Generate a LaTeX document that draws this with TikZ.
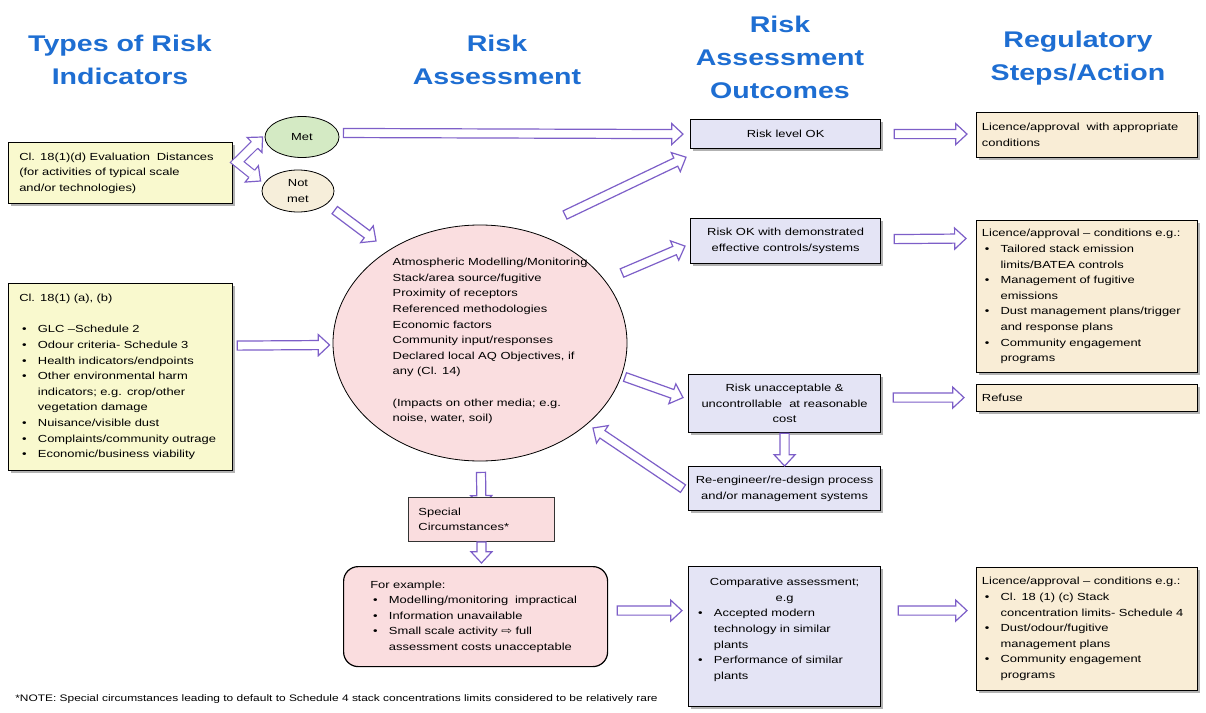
\documentclass[tikz,border=0pt]{standalone}
\usepackage{fontspec}
\setmainfont[FakeStretch=1.26]{Liberation Sans}
\newfontfamily\djv[FakeStretch=1.26]{DejaVu Sans}
\usetikzlibrary{shapes.geometric,calc,shadows}
\definecolor{hdrblue}{RGB}{30,110,210}
\definecolor{arrcol}{RGB}{125,95,200}
\definecolor{yel}{RGB}{249,249,206}
\definecolor{beige}{RGB}{249,237,214}
\definecolor{lav}{RGB}{228,228,245}
\definecolor{pinkb}{RGB}{250,221,223}
\definecolor{rapink}{RGB}{250,222,224}
\definecolor{metg}{RGB}{212,234,196}
\definecolor{nmet}{RGB}{246,238,218}
\pgfdeclarelayer{bg}
\pgfsetlayers{bg,main}
\def\sw{3.4pt}\def\hw{7.9pt}\def\hl{8.5pt}\def\alw{0.9pt}
\newcommand\blockarr[2]{%
  \path (#1) coordinate (bA) (#2) coordinate (bB);
  \path ($(bB)!\hl!(bA)$) coordinate (bH);
  \filldraw[barr] ($(bA)!\sw!90:(bB)$) -- ($(bH)!\sw!-90:(bA)$) -- ($(bH)!\hw!-90:(bA)$) -- (bB) -- ($(bH)!\hw!90:(bA)$) -- ($(bH)!\sw!90:(bA)$) -- ($(bA)!\sw!-90:(bB)$) -- cycle;}
\newcommand\chevarr[3]{%
  \path (#1) coordinate (cV) (#2) coordinate (cT) (#3) coordinate (cU);
  \path ($(cT)!\hl!(cV)$) coordinate (cH) ($(cU)!\hl!(cV)$) coordinate (cI);
  \draw[draw=arrcol, line width=\alw, double=white, double distance=5.9pt, line join=miter] (cH) -- (cV) -- (cI);
  \filldraw[barr] ($(cH)!\sw!90:(cT)$) -- ($(cH)!\hw!90:(cT)$) -- (cT) -- ($(cH)!\hw!-90:(cT)$) -- ($(cH)!\sw!-90:(cT)$);
  \filldraw[barr] ($(cI)!\sw!90:(cU)$) -- ($(cI)!\hw!90:(cU)$) -- (cU) -- ($(cI)!\hw!-90:(cU)$) -- ($(cI)!\sw!-90:(cU)$);}
\newcommand\bu{\hspace*{2.2pt}\makebox[11.8pt][l]{\textbullet}}
\newcommand\cn{\hspace*{14pt}}
\begin{document}
\begin{tikzpicture}[x=0.75pt,y=-0.75pt,
  every node/.style={font=\fontsize{7.7}{11.7}\selectfont, inner ysep=1pt},
  hdr/.style={font=\fontsize{17}{24.75}\selectfont\bfseries, text=hdrblue, align=center},
  barr/.style={fill=white, draw=arrcol, line width=\alw, line join=miter},
  bx/.style={draw=black, line width=0.9pt, anchor=north west,
    drop shadow={shadow xshift=1.5pt, shadow yshift=-1.5pt, fill=black!50, opacity=0.6}},
  yb/.style={bx, fill=yel, align=left, inner xsep=8pt, minimum width=168pt, text width=152pt},
  lb/.style={bx, fill=lav, align=center, inner xsep=2pt},
  rb/.style={bx, fill=beige, align=left, inner xsep=4pt, minimum width=165.75pt, text width=157.75pt},
  ell/.style={ellipse, draw=black, line width=0.6pt, inner sep=0pt, align=center}]
\useasboundingbox (0,0) rectangle (1206,713);
\begin{pgfonlayer}{bg}
\fill[white] (0,0) rectangle (1206,713);
\end{pgfonlayer}

% headers
\node[hdr] (h1) at (120,59.5) {Types of Risk\\Indicators};
\node[hdr] (h2) at (497,59.5) {Risk\\Assessment};
\node[hdr] (h3) at (780,57) {Risk\\Assessment\\Outcomes};
\node[hdr] (h4) at (1078,58.5) {Regulatory\\Steps/Action};

% left column
\node[yb, minimum height=45.75pt] (ed) at (8,142) {Cl. 18(1)(d) Evaluation\ \ Distances\\(for activities of typical scale\\and/or technologies)};
\node[yb, minimum height=140.25pt] (ind) at (8,283) {Cl. 18(1) (a), (b)\\\mbox{}\\
\bu GLC –Schedule 2\\
\bu Odour criteria- Schedule 3\\
\bu Health indicators/endpoints\\
\bu Other environmental harm\\
\cn indicators; e.g. crop/other\\
\cn vegetation damage\\
\bu Nuisance/visible dust\\
\bu Complaints/community outrage\\
\bu Economic/business viability};

% met / not met
\node[ell, fill=metg, minimum width=55.5pt, minimum height=30.75pt] (met) at (302,137) {Met};
\node[ell, fill=nmet, minimum width=54pt, minimum height=31.5pt] (notmet) at (298,191) {Not\\met};

% risk assessment circle
\node[ell, fill=rapink, minimum width=220.5pt, minimum height=177pt] (ra) at (480,343) {};
\node[align=left, anchor=west] (ratxt) at (388,341) {Atmospheric Modelling/Monitoring\\
Stack/area source/fugitive\\
Proximity of receptors\\
Referenced methodologies\\
Economic factors\\
Community input/responses\\
Declared local AQ Objectives, if\\
any (Cl. 14)\\
\mbox{}\\
(Impacts on other media; e.g.\\
noise, water, soil)};

% outcomes
\node[lb, minimum width=142.5pt, minimum height=21.75pt] (o1) at (690,119) {Risk level OK};
\node[lb, minimum width=142.5pt, minimum height=33.75pt] (o2) at (690,218) {Risk OK with demonstrated\\effective controls/systems};
\node[lb, minimum width=144pt, minimum height=43.5pt] (o3) at (688,374) {Risk unacceptable \&\\uncontrollable\ \ at reasonable\\cost};
\node[lb, minimum width=144pt, minimum height=33pt] (o4) at (688,466) {Re-engineer/re-design process\\and/or management systems};
\node[lb, align=left, inner xsep=5pt, text width=134pt, minimum width=144pt, minimum height=105pt] (o5) at (688,566) {\makebox[134pt]{Comparative assessment;}\\\makebox[134pt]{e.g}\\
\bu Accepted modern\\
\cn technology in similar\\
\cn plants\\
\bu Performance of similar\\
\cn plants\\\mbox{}};

% regulatory
\node[rb, minimum height=33.75pt] (r1) at (976,112) {Licence/approval\ \ with appropriate\\conditions};
\node[rb, minimum height=114pt] (r2) at (976,220) {Licence/approval – conditions e.g.:\\
\bu Tailored stack emission\\
\cn limits/BATEA controls\\
\bu Management of fugitive\\
\cn emissions\\
\bu Dust management plans/trigger\\
\cn and response plans\\
\bu Community engagement\\
\cn programs};
\node[rb, minimum height=20.25pt] (r3) at (976,384) {Refuse};
\node[rb, minimum height=92.25pt] (r4) at (976,567) {Licence/approval – conditions e.g.:\\
\bu Cl. 18 (1) (c) Stack\\
\cn concentration limits- Schedule 4\\
\bu Dust/odour/fugitive\\
\cn management plans\\
\bu Community engagement\\
\cn programs};

% special circumstances
\node[draw=black!80, line width=0.7pt, fill=pinkb, anchor=north west, align=left, inner xsep=7.5pt, text width=94.5pt, minimum width=109.5pt, minimum height=33pt] (sc) at (408,497) {Special\\Circumstances*};
\node[draw=black, line width=0.9pt, fill=pinkb, rounded corners=11pt, anchor=north west, align=left, inner xsep=20pt, text width=158pt, minimum width=198pt, minimum height=75pt] (fe) at (343,566) {For example:\\
\bu Modelling/monitoring\ \ impractical\\
\bu Information unavailable\\
\bu Small scale activity {\djv ⇨} full\\
\cn assessment costs unacceptable};

\node[anchor=west, font=\fontsize{7.1}{8}\selectfont, inner sep=0pt] (note) at (15,699) {*NOTE: Special circumstances leading to default to Schedule 4 stack concentrations limits considered to be relatively rare};

% arrows
\chevarr{$(ed.east)+(4,-11)$}{$(met.west)+(-2,0)$}{$(notmet.west)+(-1,-10)$}
\blockarr{$(met.east)+(4,-4)$}{$(o1.west)+(-7,0)$}
\blockarr{$(notmet.south east)+(11,4)$}{$(ra.center)+(-104,-102)$}
\blockarr{$(ra.center)+(85,-128)$}{$(o1.south west)+(-4,8)$}
\blockarr{$(ra.center)+(142,-70)$}{$(o2.west)+(-5,5)$}
\blockarr{$(ra.center)+(145,34)$}{$(o3.west)+(-5,-6)$}
\blockarr{$(o4.west)+(-5,0)$}{$(ra.center)+(113,85)$}
\blockarr{$(o3.south)$}{$(o4.north)$}
\blockarr{$(ind.east)+(4,-31.5)$}{$(ra.west)+(-3,2)$}
\begin{pgfonlayer}{bg}
\blockarr{$(ra.south)+(1,11)$}{$(sc.north)+(0,10)$}
\end{pgfonlayer}
\blockarr{$(sc.south)$}{$(sc.south |- fe.north)+(0,-3)$}
\blockarr{$(fe.east)+(9,-6)$}{$(o5.west)+(-6,-26)$}
\blockarr{$(o1.east)+(13,0)$}{$(r1.west)+(-9,-1)$}
\blockarr{$(o2.east)+(13,-2)$}{$(r2.north west)+(-10,18.5)$}
\blockarr{$(o3.east)+(12,-6)$}{$(r3.west)+(-12,-0.5)$}
\blockarr{$(o5.east)+(17,-26)$}{$(r4.west)+(-9,-18.5)$}
\end{tikzpicture}
\end{document}
